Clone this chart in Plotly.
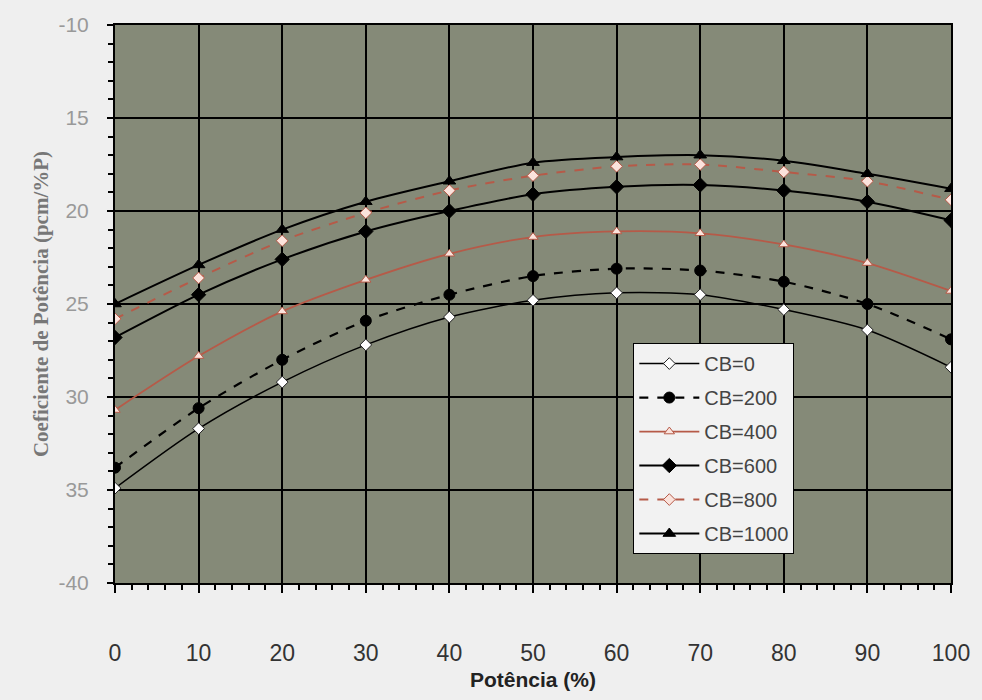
import plotly.graph_objects as go

potencia = [0, 10, 20, 30, 40, 50, 60, 70, 80, 90, 100]
cb0 = [-34.9, -31.7, -29.2, -27.2, -25.7, -24.8, -24.4, -24.5, -25.3, -26.4, -28.4]
cb200 = [-33.8, -30.6, -28.0, -25.9, -24.5, -23.5, -23.1, -23.2, -23.8, -25.0, -26.9]
cb400 = [-30.7, -27.8, -25.4, -23.7, -22.3, -21.4, -21.1, -21.2, -21.8, -22.8, -24.3]
cb600 = [-26.8, -24.5, -22.6, -21.1, -20.0, -19.1, -18.7, -18.6, -18.9, -19.5, -20.5]
cb800 = [-25.8, -23.6, -21.6, -20.1, -18.9, -18.1, -17.6, -17.5, -17.9, -18.4, -19.4]
cb1000 = [-25.0, -22.9, -21.0, -19.5, -18.4, -17.4, -17.1, -17.0, -17.3, -18.0, -18.8]

y_tickvals = [-10, -15, -20, -25, -30, -35, -40]
y_ticktext = ["-10", "15", "20", "25", "30", "35", "-40"]
x_tickvals = [0, 10, 20, 30, 40, 50, 60, 70, 80, 90, 100]

RED = "#b65a48"
series = [
    ("CB=0", cb0, dict(color="black", width=1.5, dash="solid"),
     dict(symbol="diamond", size=9, color="white", line=dict(color="#222", width=1))),
    ("CB=200", cb200, dict(color="black", width=2.2, dash="dash"),
     dict(symbol="circle", size=11, color="black", line=dict(color="black", width=1))),
    ("CB=400", cb400, dict(color=RED, width=1.8, dash="solid"),
     dict(symbol="triangle-up", size=9, color="#fbe3dc", line=dict(color=RED, width=1))),
    ("CB=600", cb600, dict(color="black", width=2, dash="solid"),
     dict(symbol="diamond", size=11, color="black", line=dict(color="black", width=1))),
    ("CB=800", cb800, dict(color=RED, width=2, dash="dash"),
     dict(symbol="diamond", size=9, color="#fbe3dc", line=dict(color=RED, width=1))),
    ("CB=1000", cb1000, dict(color="black", width=2, dash="solid"),
     dict(symbol="triangle-up", size=11, color="black", line=dict(color="black", width=1))),
]

fig = go.Figure()
for i, (name, vals, line, marker) in enumerate(series):
    line = dict(line, shape="spline", smoothing=0.8)
    fig.add_trace(go.Scatter(
        x=potencia, y=vals, name=name, mode="lines+markers",
        line=line, marker=marker, legendgroup=f"g{i}",
    ))

fig.update_layout(
    width=982, height=700,
    margin=dict(l=115, r=30, t=25, b=111),
    paper_bgcolor="#efefef",
    plot_bgcolor="#858a78",
    showlegend=True,
    legend=dict(
        x=0.62, y=0.43, xanchor="left", yanchor="top",
        bgcolor="#f2f2f2", bordercolor="black", borderwidth=1,
        font=dict(family="Liberation Sans", size=20, color="#444"),
        tracegroupgap=5, itemwidth=60,
    ),
    xaxis=dict(
        range=[0, 100], tickvals=x_tickvals,
        showgrid=True, gridcolor="black", gridwidth=2,
        showline=True, linecolor="black", linewidth=2, mirror=True,
        ticks="outside", ticklen=8, tickcolor="black", tickwidth=2,
        minor=dict(dtick=2, ticks="outside", ticklen=5, tickcolor="black", showgrid=False),
        tickfont=dict(family="Liberation Sans", size=23, color="#333"),
        ticklabelstandoff=40,
        title=dict(text="<b>Potência (%)</b>",
                   font=dict(family="Liberation Sans", size=21, color="#222"), standoff=8),
        zeroline=False,
    ),
    yaxis=dict(
        range=[-40, -10], tickvals=y_tickvals, ticktext=y_ticktext,
        showgrid=True, gridcolor="black", gridwidth=2,
        showline=True, linecolor="black", linewidth=2, mirror=True,
        ticks="outside", ticklen=6, tickcolor="black", tickwidth=2,
        minor=dict(dtick=1, ticks="outside", ticklen=5, tickcolor="black", showgrid=False),
        tickfont=dict(family="Liberation Sans", size=21, color="#999"),
        ticklabelstandoff=14,
        title=dict(text="<b>Coeficiente de Potência (pcm/%P)</b>",
                   font=dict(family="Liberation Serif", size=21, color="#777"), standoff=4),
        zeroline=False,
    ),
)

fig.write_html("out.html")
